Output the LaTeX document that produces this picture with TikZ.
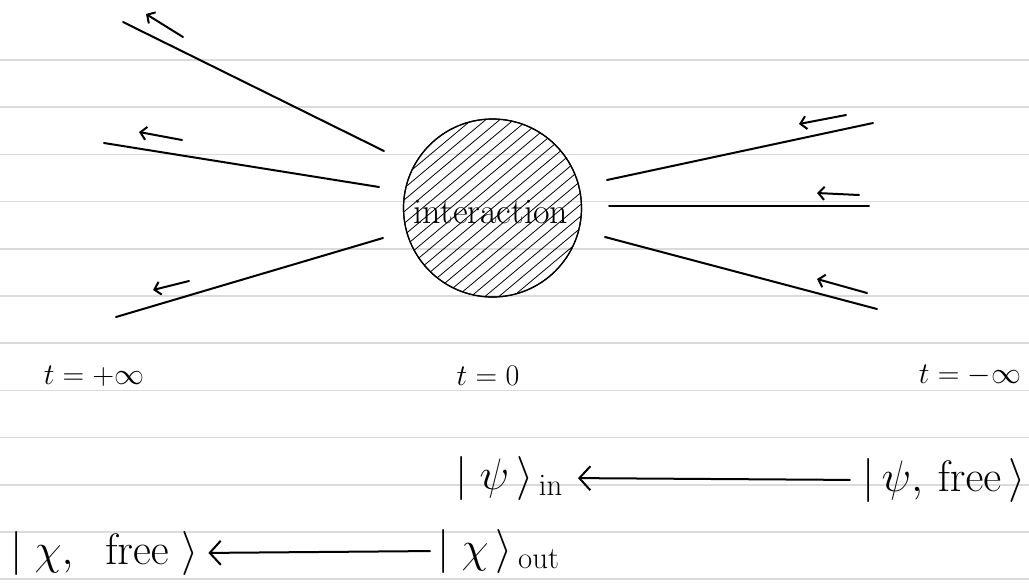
\RequirePackage{fix-cm}
\documentclass[tikz,border=0pt]{standalone}
\usetikzlibrary{arrows.meta,calc}
\begin{document}
\begin{tikzpicture}[x=1pt,y=-1pt,
  rule/.style={draw=black!14, line width=1.6pt},
  ray/.style={draw=black, line width=2pt, line cap=round},
  tick/.style={draw=black, line width=2pt, line cap=round, -{Straight Barb[length=6pt,width=13pt]}},
  bigarrow/.style={draw=black, line width=2pt, line cap=round, -{Straight Barb[length=11pt,width=24pt]}},
  hatch/.style={draw=black, line width=0.8pt},
  lbl/.style={inner sep=0pt, font=\fontsize{30}{36}\selectfont},
  ket/.style={inner sep=0pt, font=\fontsize{44}{52}\selectfont}]
\useasboundingbox (0,0) rectangle (1029,582);
\fill[white] (0,0) rectangle (1029,582);
% ruled paper
\foreach \k in {0,...,11} \draw[rule] (0,{60+47.2*\k}) -- (1029,{60+47.2*\k});
% interaction blob
\node[circle, draw=black, line width=1.2pt, minimum size=178pt, inner sep=0pt] (int) at (492.5,208) {};
\begin{scope}
  \clip (492.5,208) circle (89);
  \foreach \s in {-196,-182,...,196}
    \draw[hatch] ({492.5+\s-130},{208+109}) -- ({492.5+\s+130},{208-109});
\end{scope}
\node[circle, draw=black, line width=1.2pt, minimum size=178pt, inner sep=0pt] at (int.center) {};
\node[inner sep=0pt, font=\fontsize{36}{42}\selectfont] (inttext) at (491,212) {interaction};
% outgoing rays (left)
\coordinate (l1a) at (123,22);  \coordinate (l1b) at (384,151);
\coordinate (l2a) at (104,143); \coordinate (l2b) at (379,187);
\coordinate (l3a) at (116,317); \coordinate (l3b) at (383,238);
\draw[ray] (l1b) -- (l1a);
\draw[ray] (l2b) -- (l2a);
\draw[ray] (l3b) -- (l3a);
\coordinate (t1s) at (183,37);  \coordinate (t1e) at (146,14);
\coordinate (t2s) at (182,140); \coordinate (t2e) at (139,132);
\coordinate (t3s) at (189,281); \coordinate (t3e) at (153,290);
\draw[tick] (t1s) -- (t1e);
\draw[tick] (t2s) -- (t2e);
\draw[tick] (t3s) -- (t3e);
% incoming rays (right)
\coordinate (r1a) at (873,123); \coordinate (r1b) at (607,180);
\coordinate (r2a) at (869,206); \coordinate (r2b) at (609,206);
\coordinate (r3a) at (877,309); \coordinate (r3b) at (605,237);
\draw[ray] (r1a) -- (r1b);
\draw[ray] (r2a) -- (r2b);
\draw[ray] (r3a) -- (r3b);
\coordinate (u1s) at (846,115); \coordinate (u1e) at (799,124);
\coordinate (u2s) at (859,195); \coordinate (u2e) at (817,193);
\coordinate (u3s) at (867,293); \coordinate (u3e) at (817,279);
\draw[tick] (u1s) -- (u1e);
\draw[tick] (u2s) -- (u2e);
\draw[tick] (u3s) -- (u3e);
% time labels
\node[lbl] (tplus) at (94,376) {$t=+\infty$};
\node[lbl] (tzero) at (488,376) {$t=0$};
\node[lbl] (tminus) at (970,376) {$t=-\infty$};
% states
\node[ket, anchor=east] (psiin) at (563,478) {$|\;\psi\,\rangle_{\,\mathrm{in}}$};
\node[ket, anchor=east] (psifree) at (1026,480) {$|\,\psi,\,\mathrm{free}\,\rangle$};
\node[ket, anchor=west] (chifree) at (10,553) {$|\;\chi,\;\;\mathrm{free}\;\rangle$};
\node[ket, anchor=west] (chiout) at (437,551) {$|\;\chi\,\rangle_{\,\mathrm{out}}$};
\draw[bigarrow, shorten <=12pt, shorten >=15pt] (psifree.west) -- (psiin.east);
\draw[bigarrow, shorten <=7pt, shorten >=10pt] (chiout.west) -- (chifree.east);
\end{tikzpicture}
\end{document}
